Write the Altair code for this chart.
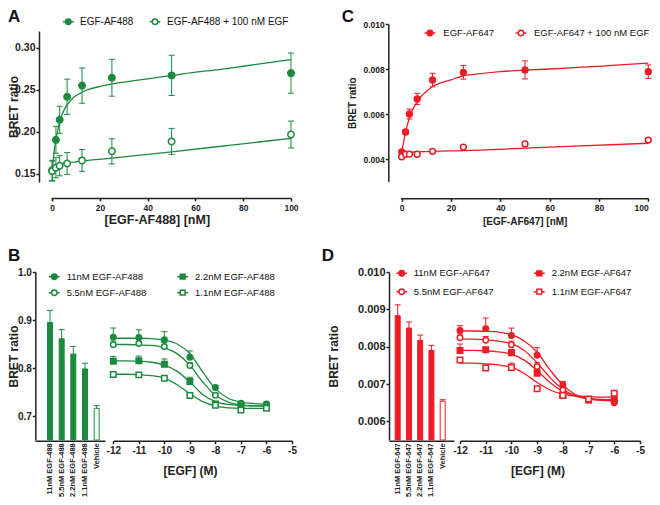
import altair as alt
import pandas as pd

GREEN = "#1b8a3e"
RED = "#ee1c25"
AXC = "#222222"
FONT = "Liberation Sans"
W, H = 644, 489

# ---------------- Panel A data ----------------
conc_nM = [0, 1.5625, 3.125, 6.25, 12.5, 25, 50, 100]
a_names = ["EGF-AF488", "EGF-AF488 + 100 nM EGF"]
a_total = [0.1539, 0.1903, 0.2142, 0.2416, 0.2549, 0.2643, 0.2671, 0.2698]
a_total_err = [0.012, 0.016, 0.016, 0.021, 0.021, 0.022, 0.024, 0.024]
a_nsb = [0.153, 0.157, 0.1594, 0.1621, 0.1657, 0.1766, 0.1884, 0.1966]
a_nsb_err = [0.012, 0.012, 0.012, 0.013, 0.013, 0.015, 0.0155, 0.016]
fit_x = [0, 0.5, 1, 1.5, 2, 3, 4, 5, 6, 8, 10, 12.5, 15, 20, 25, 30, 40, 50, 60, 70, 80, 90, 100]
a_fit_total = [0.155, 0.168, 0.180, 0.189, 0.197, 0.210, 0.219, 0.226, 0.231, 0.238, 0.243, 0.247,
               0.250, 0.254, 0.257, 0.259, 0.263, 0.267, 0.271, 0.274, 0.278, 0.282, 0.286]
nsb_fit_x = [0, 1, 2, 4, 6, 10, 12.5, 25, 50, 75, 100]
a_fit_nsb = [0.155, 0.158, 0.160, 0.162, 0.163, 0.164, 0.165, 0.1685, 0.176, 0.184, 0.192]

# ---------------- Panel C data ----------------
c_names = ["EGF-AF647", "EGF-AF647 + 100 nM EGF"]
c_total = [0.00431, 0.0052, 0.0060, 0.00667, 0.00751, 0.00785, 0.00796, 0.00788]
c_total_err = [0.00005, 0.0001, 0.00022, 0.00025, 0.0003, 0.0003, 0.0004, 0.0003]
c_nsb = [0.0041, 0.00421, 0.00422, 0.00421, 0.00434, 0.00453, 0.00467, 0.00484]
c_nsb_err = [0.00004, 0.00004, 0.00004, 0.00004, 0.00004, 0.00004, 0.00004, 0.00004]
c_fit_total = [0.0043, 0.0046, 0.0049, 0.0052, 0.0054, 0.0058, 0.0061, 0.0063, 0.0065, 0.0068, 0.0070,
               0.00722, 0.00735, 0.00752, 0.00770, 0.00777, 0.00788, 0.00795, 0.0080, 0.00806,
               0.00812, 0.00819, 0.00826]
c_fit_nsb = [0.00428, 0.00429, 0.0043, 0.00431, 0.00432, 0.00433, 0.00434, 0.00437, 0.00448, 0.00459, 0.0047]

# ---------------- Panel B / D data ----------------
log_egf = [-12, -11, -10, -9, -8, -7, -6]
fit_log = [-12, -11.5, -11, -10.5, -10, -9.5, -9, -8.5, -8, -7.5, -7, -6.5, -6]

b_names = ["11nM EGF-AF488", "5.5nM EGF-AF488", "2.2nM EGF-AF488", "1.1nM EGF-AF488"]
b_vals = [
    [0.8643, 0.8636, 0.8587, 0.8225, 0.7592, 0.7265, 0.7251],
    [0.8483, 0.8510, 0.8448, 0.8051, 0.7432, 0.7251, 0.7230],
    [0.8142, 0.8149, 0.8079, 0.7717, 0.7251, 0.7216, 0.7195],
    [0.7864, 0.7857, 0.7787, 0.7425, 0.7223, 0.7126, 0.7160],
]
b_errs = [
    [0.019, 0.016, 0.017, 0.013, 0.004, 0.003, 0.003],
    [0.008, 0.008, 0.008, 0.006, 0.004, 0.003, 0.003],
    [0.010, 0.010, 0.011, 0.009, 0.003, 0.003, 0.003],
    [0.004, 0.004, 0.004, 0.004, 0.003, 0.003, 0.003],
]
b_fits = [
    [0.862, 0.862, 0.862, 0.861, 0.858, 0.850, 0.830, 0.792, 0.757, 0.737, 0.729, 0.726, 0.725],
    [0.849, 0.849, 0.848, 0.847, 0.842, 0.830, 0.806, 0.771, 0.743, 0.729, 0.723, 0.721, 0.720],
    [0.815, 0.815, 0.814, 0.812, 0.806, 0.793, 0.771, 0.745, 0.730, 0.724, 0.722, 0.721, 0.721],
    [0.787, 0.787, 0.786, 0.784, 0.779, 0.765, 0.747, 0.730, 0.721, 0.717, 0.716, 0.716, 0.716],
]
b_bar_labels = ["11nM EGF-488", "5.5nM EGF-488", "2.2nM EGF-488", "1.1nM EGF-488", "Vehicle"]
b_bar = [0.895, 0.861, 0.829, 0.798, 0.716]
b_bar_err = [0.025, 0.019, 0.016, 0.012, 0.0056]

d_names = ["11nM EGF-AF647", "5.5nM EGF-AF647", "2.2nM EGF-AF647", "1.1nM EGF-AF647"]
d_vals = [
    [0.008432, 0.008477, 0.008298, 0.007773, 0.006971, 0.00657, 0.0065],
    [0.00824, 0.008174, 0.00805, 0.00747, 0.00684, 0.00659, 0.00654],
    [0.0079, 0.00792, 0.00784, 0.00729, 0.00669, 0.00657, 0.00659],
    [0.00764, 0.00743, 0.00744, 0.00687, 0.00669, 0.0066, 0.00675],
]
d_errs = [
    [0.00013, 0.00029, 0.0002, 0.0002, 0.0001, 0.00005, 0.00003],
    [0.0001, 0.0001, 0.0001, 0.0001, 0.00005, 0.00003, 0.00003],
    [0.00017, 0.00005, 0.00008, 0.0001, 0.00005, 0.00003, 0.00003],
    [0.00003, 0.00005, 0.00012, 0.00005, 0.00003, 0.00003, 0.00003],
]
d_fits = [
    [0.00842, 0.00842, 0.00841, 0.00839, 0.00832, 0.00815, 0.00785, 0.00738, 0.00697, 0.00672, 0.00661, 0.00656, 0.00655],
    [0.00820, 0.00820, 0.00818, 0.00815, 0.00808, 0.00790, 0.00757, 0.00717, 0.00686, 0.00668, 0.00660, 0.00657, 0.00656],
    [0.00790, 0.00790, 0.00789, 0.00786, 0.00780, 0.00764, 0.00736, 0.00704, 0.00680, 0.00667, 0.00661, 0.00659, 0.00658],
    [0.00756, 0.00756, 0.00754, 0.00751, 0.00745, 0.00728, 0.00704, 0.00684, 0.00673, 0.00668, 0.00666, 0.00665, 0.00665],
]
d_bar_labels = ["11nM EGF-647", "5.5nM EGF-647", "2.2nM EGF-647", "1.1nM EGF-647", "Vehicle"]
d_bar = [0.00883, 0.0085, 0.00817, 0.0079, 0.00654]
d_bar_err = [0.00029, 0.00016, 0.00014, 0.00013, 0.00004]


# ---------------- helpers ----------------
def long_points(xs, names, vals, errs):
    rows = []
    for n, vs, es in zip(names, vals, errs):
        for x, v, e in zip(xs, vs, es):
            rows.append(dict(x=x, v=v, lo=v - e, hi=v + e, series=n))
    return pd.DataFrame(rows)


def long_fit(xs_list, names, vals):
    rows = []
    for xs, n, vs in zip(xs_list, names, vals):
        for x, v in zip(xs, vs):
            rows.append(dict(x=x, v=v, series=n))
    return pd.DataFrame(rows)


CIRC = "M-2,0L-1,0M1,0L2,0M1,0A1,1,0,1,1,-1,0A1,1,0,1,1,1,0Z"
SQR = "M-2,0L-0.9,0M0.9,0L2,0M-0.9,-0.9L0.9,-0.9L0.9,0.9L-0.9,0.9Z"
PATHS = {"circle": CIRC, "square": SQR}


def legend_layer(pts, name, fill, shape, color, lx, ly, loff, fsize):
    lg = alt.Legend(orient="none", legendX=lx, legendY=ly, title=None,
                    labelFont=FONT, labelFontSize=fsize, labelFontWeight="normal", labelColor="#111111",
                    symbolSize=29, symbolStrokeWidth=1.5, labelOffset=loff, padding=0, labelLimit=300)
    return (alt.Chart(pts).transform_filter("false")
            .mark_point(filled=True, size=29, stroke=color, strokeWidth=1.5, opacity=1)
            .encode(fill=alt.Fill("series:N", scale=alt.Scale(domain=[name], range=[fill]), legend=lg),
                    shape=alt.Shape("series:N", scale=alt.Scale(domain=[name], range=[PATHS[shape]]),
                                    legend=lg)))


def xy_panel(pts, fit, xs, ys, color, names, fills, shapes, legpos, legfont, xaxis, yaxis,
             both, cap, psize, lw):
    X = alt.X("x:Q", scale=xs, axis=None)
    layers = [
        alt.Chart(fit).mark_line(color=color, strokeWidth=lw, interpolate="monotone").encode(
            x=alt.X("x:Q", scale=xs, axis=xaxis),
            y=alt.Y("v:Q", scale=ys, axis=yaxis),
            detail="series:N"),
        alt.Chart(pts).mark_rule(color=color, strokeWidth=1, opacity=1).encode(
            x=X, y=alt.Y("lo:Q" if both else "v:Q", scale=ys, axis=None), y2="hi:Q"),
        alt.Chart(pts).mark_tick(color=color, orient="horizontal", size=cap, thickness=1, opacity=1).encode(
            x=X, y=alt.Y("hi:Q", scale=ys, axis=None)),
    ]
    if both:
        layers.append(alt.Chart(pts).mark_tick(color=color, orient="horizontal", size=cap, thickness=1, opacity=1).encode(
            x=X, y=alt.Y("lo:Q", scale=ys, axis=None)))
    for shp, sz in (("circle", psize[0]), ("square", psize[1])):
        sel = [n for n, s in zip(names, shapes) if s == shp]
        if not sel:
            continue
        layers.append(
            alt.Chart(pts).transform_filter(alt.FieldOneOfPredicate(field="series", oneOf=sel))
            .mark_point(shape=shp, filled=True, size=sz, stroke=color, strokeWidth=1.5, opacity=1)
            .encode(x=X, y=alt.Y("v:Q", scale=ys, axis=None),
                    fill=alt.Fill("series:N", scale=alt.Scale(domain=names, range=fills), legend=None)))
    for n, f, s, (lx, ly, lo) in zip(names, fills, shapes, legpos):
        layers.append(legend_layer(pts, n, f, s, color, lx, ly, lo, legfont))
    return layers


def bar_panel(labels, vals, errs, color, xband, ys, xaxis, yaxis):
    df = pd.DataFrame(dict(label=labels, v=vals, hi=[v + e for v, e in zip(vals, errs)]))
    X = alt.X("label:N", sort=labels, scale=xband, axis=None)
    fills = [color] * (len(labels) - 1) + ["white"]
    bars = alt.Chart(df).mark_bar(width=5, stroke=color, strokeWidth=1, opacity=1).encode(
        x=alt.X("label:N", sort=labels, scale=xband, axis=xaxis),
        y=alt.Y("v:Q", scale=ys, axis=yaxis),
        y2=alt.datum(0),
        fill=alt.Fill("label:N", scale=alt.Scale(domain=labels, range=fills), legend=None))
    rule = alt.Chart(df).mark_rule(color=color, strokeWidth=1).encode(
        x=X, y=alt.Y("v:Q", scale=ys, axis=None), y2="hi:Q")
    cap = alt.Chart(df).mark_tick(color=color, orient="horizontal", size=6, thickness=1, opacity=1).encode(
        x=X, y=alt.Y("hi:Q", scale=ys, axis=None))
    return [bars, rule, cap]


def yaxis(offset, values, fmt, size, title_size, title_x):
    return alt.Axis(orient="left", offset=offset, values=values, format=fmt, title="BRET ratio",
                    labelFontSize=size, titleFontSize=title_size, titleX=title_x,
                    titleBaseline="alphabetic", labelPadding=1)


def xaxis(offset, values, title, size, title_size, title_x, title_y, expr=None, flush=False):
    kw = dict(orient="bottom", offset=offset, values=values, title=title, labelFontSize=size,
              titleFontSize=title_size, titleX=title_x, titleY=title_y, titleAlign="center",
              titleBaseline="alphabetic", labelPadding=2, labelFlush=flush)
    if expr:
        kw["labelExpr"] = expr
    return alt.Axis(**kw)


# ---------------- panel A ----------------
xA = alt.Scale(domain=[-0.5, 100], range=[43, 283], nice=False, zero=False)
yA = alt.Scale(domain=[0.14, 0.32], range=[174, 23], nice=False, zero=False)
panelA = xy_panel(
    long_points(conc_nM, a_names, [a_total, a_nsb], [a_total_err, a_nsb_err]),
    long_fit([fit_x, nsb_fit_x], a_names, [a_fit_total, a_fit_nsb]),
    xA, yA, GREEN, a_names, [GREEN, "white"], ["circle", "circle"],
    [(55.3, 8.7, 6.7), (142, 8.7, 7)], 10,
    xaxis(-299, [0, 20, 40, 60, 80, 100], "[EGF-AF488] [nM]", 8.5, 12.5, 148.8, 25),
    yaxis(-31, [0.15, 0.20, 0.25, 0.30], ".2f", 10.5, 12, -22),
    True, 6, (42, 30), 1.3)

# ---------------- panel C ----------------
xC = alt.Scale(domain=[-0.5, 100], range=[392.5, 640.3], nice=False, zero=False)
yC = alt.Scale(domain=[0.003, 0.010], range=[173.5, 16], nice=False, zero=False)
panelC = xy_panel(
    long_points(conc_nM, c_names, [c_total, c_nsb], [c_total_err, c_nsb_err]),
    long_fit([fit_x, nsb_fit_x], c_names, [c_fit_total, c_fit_nsb]),
    xC, yC, RED, c_names, [RED, "white"], ["circle", "circle"],
    [(417.25, 20.25, 8.55), (508.25, 20.25, 8.25)], 9.5,
    xaxis(-298.7, [0, 20, 40, 60, 80, 100], "[EGF-AF647] [nM]", 8.5, 10, 516.7, 25.7, flush=True),
    yaxis(-380.3, [0.004, 0.006, 0.008, 0.010], ".3f", 8.5, 10, -33.3),
    True, 6, (34, 30), 1.3)

# ---------------- panel B ----------------
yB = alt.Scale(domain=[0.65, 1.0], range=[432, 264], nice=False, zero=False, clamp=True)
xBbar = alt.Scale(domain=b_bar_labels, range=[27, 97], paddingInner=0, paddingOuter=0.5, align=0.786)
xBc = alt.Scale(domain=[-12, -5], range=[105.3, 284], nice=False, zero=False)
panelBbar = bar_panel(
    b_bar_labels, b_bar, b_bar_err, GREEN, xBbar, yB,
    alt.Axis(orient="bottom", offset=-56.3, labelAngle=-90, ticks=False, title=None,
             labelFontSize=7.5, labelPadding=2),
    yaxis(-27.3, [0.7, 0.8, 0.9, 1.0], ".1f", 10, 12, -18.3))
panelBc = xy_panel(
    long_points(log_egf, b_names, b_vals, b_errs),
    long_fit([fit_log] * 4, b_names, b_fits),
    xBc, yB, GREEN, b_names, [GREEN, "white", GREEN, "white"],
    ["circle", "circle", "square", "square"],
    [(41.55, 263.95, 7.6), (41.55, 279.95, 7.6), (169.95, 263.95, 7.6), (169.95, 279.95, 7.6)], 9.5,
    xaxis(-56.3, [-12, -11, -10, -9, -8, -7, -6, -5], "[EGF] (M)", 10, 12, 182, 33.3,
          "datum.value + ''"),
    None, False, 6, (30, 30), 1.3)

# ---------------- panel D ----------------
yD = alt.Scale(domain=[0.0055, 0.010], range=[432, 264], nice=False, zero=False, clamp=True)
xDbar = alt.Scale(domain=d_bar_labels, range=[381, 446], paddingInner=0, paddingOuter=0.389, align=0.35)
xDc = alt.Scale(domain=[-12, -5], range=[452, 632], nice=False, zero=False)
panelDbar = bar_panel(
    d_bar_labels, d_bar, d_bar_err, RED, xDbar, yD,
    alt.Axis(orient="bottom", offset=-56.3, labelAngle=-90, ticks=False, title=None,
             labelFontSize=7.5, labelPadding=2),
    yaxis(-381, [0.006, 0.007, 0.008, 0.009, 0.010], ".3f", 11, 12, -52))
panelDc = xy_panel(
    long_points(log_egf, d_names, d_vals, d_errs),
    long_fit([fit_log] * 4, d_names, d_fits),
    xDc, yD, RED, d_names, [RED, "white", RED, "white"],
    ["circle", "circle", "square", "square"],
    [(388.95, 260.55, 7.3), (388.95, 278.95, 7.3), (526.55, 260.55, 7.6), (526.55, 278.95, 7.6)], 9.5,
    xaxis(-56.3, [-12, -11, -10, -9, -8, -7, -6, -5], "[EGF] (M)", 10, 12, 529.5, 33.3,
          "datum.value + ''"),
    None, False, 6, (30, 30), 1.3)


# ---------------- panel letters ----------------
def letter(t, x, y):
    return alt.Chart(pd.DataFrame({"t": [t]})).mark_text(
        text=t, font=FONT, fontSize=17, fontWeight="bold", align="left", baseline="alphabetic",
        color="#111111").encode(x=alt.value(x), y=alt.value(y))


all_layers = (panelA + panelC + panelBbar + panelBc + panelDbar + panelDc +
              [letter("A", 0, 14), letter("C", 333.7, 14), letter("B", 0, 252.7), letter("D", 313.7, 252.7)])

chart = alt.layer(*all_layers).resolve_scale(
    x="independent", y="independent", fill="independent", shape="independent"
).properties(
    width=W, height=H, autosize=alt.AutoSizeParams(type="none"), padding=0
).configure_view(stroke=None).configure_axis(
    grid=False, domainColor=AXC, tickColor=AXC, labelColor=AXC, titleColor=AXC,
    domainWidth=1.5, tickWidth=1.5, tickSize=3, labelFont=FONT, titleFont=FONT,
    labelFontWeight="bold", titleFontWeight="bold", labelFlush=False, labelOverlap=False
)

chart.save("out.html", embed_options={"renderer": "svg", "actions": False})
